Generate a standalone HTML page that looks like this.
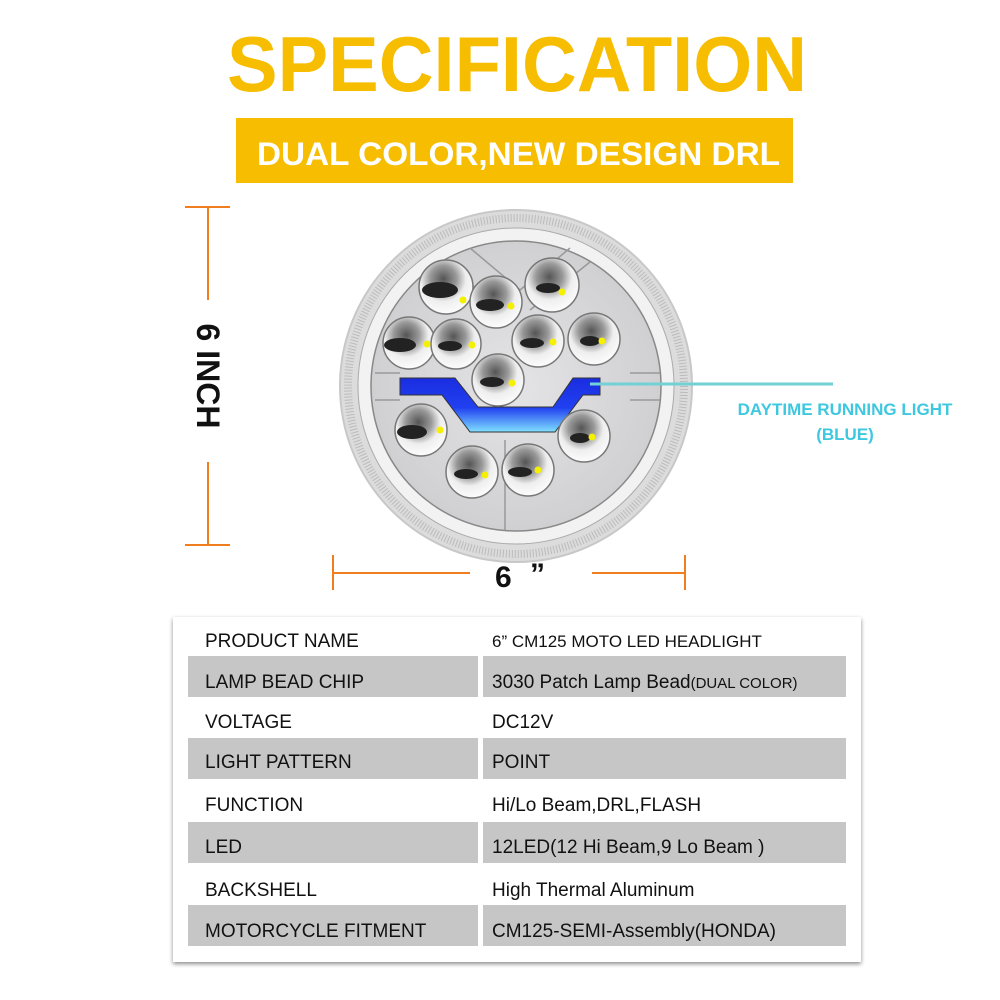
<!DOCTYPE html>
<html><head><meta charset="utf-8"><style>
body{margin:0;width:1000px;height:1000px;background:#fff;overflow:hidden}
svg{display:block}
text{font-family:"Liberation Sans",sans-serif}
</style></head><body>
<svg width="1000" height="1000" viewBox="0 0 1000 1000">
<defs>
<radialGradient id="lens" cx="0.45" cy="0.35" r="0.7">
<stop offset="0" stop-color="#555"/><stop offset="0.35" stop-color="#999"/><stop offset="0.6" stop-color="#eee"/><stop offset="1" stop-color="#fff"/>
</radialGradient>
<radialGradient id="face" cx="0.5" cy="0.5" r="0.5">
<stop offset="0" stop-color="#e4e4e6"/><stop offset="1" stop-color="#d0d0d2"/>
</radialGradient>
<linearGradient id="blue" x1="0" y1="0" x2="0" y2="1">
<stop offset="0" stop-color="#1a2de0"/><stop offset="0.55" stop-color="#2040f0"/><stop offset="1" stop-color="#80e0ff"/>
</linearGradient>
<filter id="sh"><feDropShadow dx="0" dy="2" stdDeviation="2" flood-color="#000" flood-opacity="0.45"/></filter>
</defs>
<text x="227" y="91" font-size="78" font-weight="bold" fill="#f7bd00" textLength="580" lengthAdjust="spacingAndGlyphs">SPECIFICATION</text>
<rect x="236" y="118" width="557" height="65" fill="#f7bd00"/>
<text x="257" y="165" font-size="32" font-weight="bold" fill="#fff" textLength="523" lengthAdjust="spacingAndGlyphs">DUAL COLOR,NEW DESIGN DRL</text>

<!-- vertical dimension -->
<g stroke="#f07d1e" stroke-width="2">
<line x1="208" y1="207" x2="208" y2="300"/><line x1="208" y1="462" x2="208" y2="545"/>
<line x1="185" y1="207" x2="230" y2="207"/><line x1="185" y1="545" x2="230" y2="545"/>
<line x1="333" y1="573" x2="470" y2="573"/><line x1="592" y1="573" x2="685" y2="573"/>
<line x1="333" y1="555" x2="333" y2="590"/><line x1="685" y1="555" x2="685" y2="590"/>
</g>
<text transform="translate(197,376) rotate(90)" text-anchor="middle" font-size="32" font-weight="bold" fill="#111">6 INCH</text>
<text x="495" y="587" font-size="30" font-weight="bold" fill="#111">6</text>
<text x="530" y="584" font-size="30" font-weight="bold" fill="#111">”</text>

<!-- lamp -->
<circle cx="516" cy="386" r="176" fill="#dcdcdc" stroke="#c8c8c8" stroke-width="2"/>
<circle cx="516" cy="386" r="168" fill="none" stroke="#bbb" stroke-width="8" stroke-dasharray="1 2"/>
<circle cx="516" cy="386" r="158" fill="#f2f2f2" stroke="#aaa"/>
<circle cx="516" cy="386" r="145" fill="url(#face)" stroke="#888" stroke-width="1.5"/>
<g stroke="#999" stroke-width="1.5" fill="none">
<path d="M470 248 L520 290 L570 248 M445 260 L500 310 M590 262 L530 310"/>
<path d="M375 373 L400 373 M630 373 L660 373 M375 400 L400 400 M630 400 L660 400"/>
<line x1="505" y1="440" x2="505" y2="530"/>
</g>
<path d="M400 378 L455 378 L478 407 L553 407 L573 378 L600 378 L600 395 L583 395 L555 432 L470 432 L442 395 L400 395 Z" fill="url(#blue)" stroke="#333"/>
<g stroke="#777" stroke-width="1.5" fill="url(#lens)">
<circle cx="446" cy="287" r="27"/><circle cx="496" cy="302" r="26"/><circle cx="552" cy="285" r="27"/>
<circle cx="409" cy="343" r="26"/><circle cx="456" cy="344" r="25"/><circle cx="538" cy="341" r="26"/><circle cx="594" cy="339" r="26"/>
<circle cx="498" cy="380" r="26"/>
<circle cx="421" cy="430" r="26"/><circle cx="472" cy="472" r="26"/><circle cx="528" cy="470" r="26"/><circle cx="584" cy="436" r="26"/>
</g>
<g fill="#222">
<ellipse cx="440" cy="290" rx="18" ry="8"/><ellipse cx="490" cy="305" rx="14" ry="6"/><ellipse cx="548" cy="288" rx="12" ry="5"/>
<ellipse cx="400" cy="345" rx="16" ry="7"/><ellipse cx="450" cy="346" rx="12" ry="5"/><ellipse cx="532" cy="343" rx="12" ry="5"/><ellipse cx="590" cy="341" rx="10" ry="5"/>
<ellipse cx="492" cy="382" rx="12" ry="5"/><ellipse cx="412" cy="432" rx="15" ry="7"/><ellipse cx="466" cy="474" rx="12" ry="5"/><ellipse cx="520" cy="472" rx="12" ry="5"/><ellipse cx="580" cy="438" rx="10" ry="5"/>
</g>
<g fill="#f4f000">
<circle cx="463" cy="300" r="3.5"/><circle cx="511" cy="306" r="3.5"/><circle cx="562" cy="292" r="3.5"/>
<circle cx="427" cy="344" r="3.5"/><circle cx="472" cy="345" r="3.5"/><circle cx="553" cy="342" r="3.5"/><circle cx="602" cy="341" r="3.5"/>
<circle cx="512" cy="383" r="3.5"/><circle cx="440" cy="430" r="3.5"/><circle cx="485" cy="475" r="3.5"/><circle cx="538" cy="470" r="3.5"/><circle cx="592" cy="437" r="3.5"/>
</g>
<line x1="590" y1="384" x2="833" y2="384" stroke="#72d0d6" stroke-width="3"/>
<text x="845" y="415" text-anchor="middle" font-size="17" font-weight="bold" fill="#3ec8e0">DAYTIME RUNNING LIGHT</text>
<text x="845" y="440" text-anchor="middle" font-size="17" font-weight="bold" fill="#3ec8e0">(BLUE)</text>

<!-- table -->
<rect x="173" y="617" width="688" height="345" fill="#fff" filter="url(#sh)"/>
<g fill="#c6c6c6">
<rect x="188" y="656" width="290" height="41"/><rect x="483" y="656" width="363" height="41"/>
<rect x="188" y="738" width="290" height="41"/><rect x="483" y="738" width="363" height="41"/>
<rect x="188" y="822" width="290" height="41"/><rect x="483" y="822" width="363" height="41"/>
<rect x="188" y="905" width="290" height="41"/><rect x="483" y="905" width="363" height="41"/>
</g>
<g font-size="19" fill="#111">
<text x="205" y="647">PRODUCT NAME</text><text x="492" y="647" font-size="17">6” CM125 MOTO LED HEADLIGHT</text>
<text x="205" y="688">LAMP BEAD CHIP</text><text x="492" y="688">3030 Patch Lamp Bead<tspan font-size="15">(DUAL COLOR)</tspan></text>
<text x="205" y="728">VOLTAGE</text><text x="492" y="728">DC12V</text>
<text x="205" y="768">LIGHT PATTERN</text><text x="492" y="768">POINT</text>
<text x="205" y="811">FUNCTION</text><text x="492" y="811">Hi/Lo Beam,DRL,FLASH</text>
<text x="205" y="853">LED</text><text x="492" y="853">12LED(12 Hi Beam,9 Lo Beam )</text>
<text x="205" y="896">BACKSHELL</text><text x="492" y="896">High Thermal Aluminum</text>
<text x="205" y="937">MOTORCYCLE FITMENT</text><text x="492" y="937">CM125-SEMI-Assembly(HONDA)</text>
</g>
</svg>
</body></html>
